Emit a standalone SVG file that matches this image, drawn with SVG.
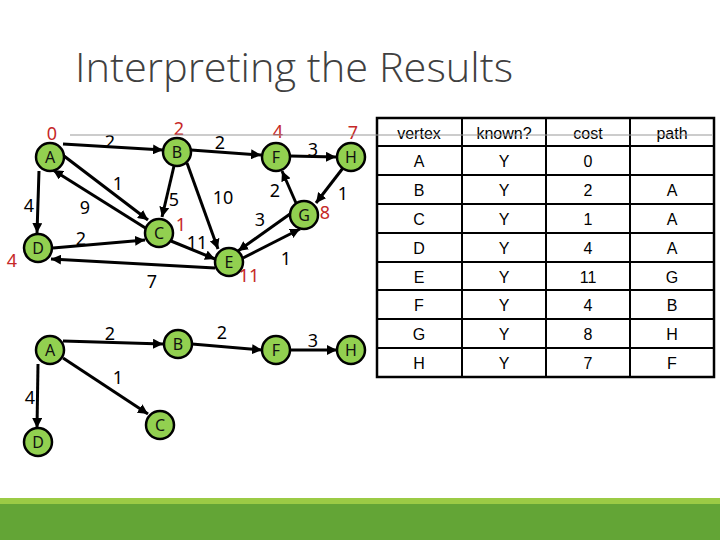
<svg xmlns="http://www.w3.org/2000/svg" width="720" height="540" viewBox="0 0 720 540">
<style>
.title{font-family:"Open Sans","Noto Sans",sans-serif;font-weight:300;font-size:41px;fill:#404040}
.node circle{fill:#92D050;stroke:#000;stroke-width:2.5}
.node text{font-family:"Noto Sans","DejaVu Sans",sans-serif;font-size:16px;fill:#111;text-anchor:middle;dominant-baseline:central}
.edges path{stroke:#000;stroke-width:3;fill:none;marker-end:url(#ah)}
.w{font-family:"Noto Sans","DejaVu Sans",sans-serif;font-size:18px;fill:#000;text-anchor:middle;dominant-baseline:central}
.r{font-family:"Noto Sans","DejaVu Sans",sans-serif;font-size:18px;fill:#C62828;text-anchor:middle;dominant-baseline:central}
.tb line{stroke:#000;stroke-width:2}
.tt{font-family:"Liberation Sans",Arial,sans-serif;font-size:16px;fill:#000;text-anchor:middle;dominant-baseline:central}
</style>
<defs>
<marker id="ah" markerUnits="userSpaceOnUse" markerWidth="11" markerHeight="10" refX="10" refY="5" orient="auto">
<path d="M0,0 L10,5 L0,10 Z" fill="#000"/>
</marker>
</defs>
<rect width="720" height="540" fill="#fff"/>
<text class="title" x="75" y="82" textLength="438" lengthAdjust="spacingAndGlyphs">Interpreting the Results</text>

<g id="connectors" class="edges">
<path d="M63,144 L163,150"/>
<path d="M64,156 L148,220"/>
<path d="M147,229 L53,170"/>
<path d="M39,171 L37,233"/>
<path d="M174,166 L162,217"/>
<path d="M53,248 L145,240"/>
<path d="M215,268 L51,259"/>
<path d="M171,241 L215,259"/>
<path d="M191,150 L261,155"/>
<path d="M187,163 L218,249"/>
<path d="M290,156 L336,157"/>
<path d="M343,168 L316,203"/>
<path d="M296,203 L282,171"/>
<path d="M290,214 L238,251"/>
<path d="M243,258 L300,229"/>
<path d="M63,341 L163,344"/>
<path d="M63,358 L148,414"/>
<path d="M38,364 L37,428"/>
<path d="M192,344 L262,350"/>
<path d="M290,350 L337,350"/>
</g>

<g id="edge-labels">
<text class="w" x="110" y="141">2</text>
<text class="w" x="118" y="183">1</text>
<text class="w" x="85" y="207">9</text>
<text class="w" x="29" y="205">4</text>
<text class="w" x="174" y="199">5</text>
<text class="w" x="81" y="238">2</text>
<text class="w" x="197" y="242">11</text>
<text class="w" x="152" y="281">7</text>
<text class="w" x="220" y="142">2</text>
<text class="w" x="223" y="197">10</text>
<text class="w" x="313" y="149">3</text>
<text class="w" x="275" y="190">2</text>
<text class="w" x="343" y="193">1</text>
<text class="w" x="260" y="219">3</text>
<text class="w" x="286" y="258">1</text>
<text class="w" x="110" y="333">2</text>
<text class="w" x="118" y="377">1</text>
<text class="w" x="30" y="397">4</text>
<text class="w" x="222" y="332">2</text>
<text class="w" x="313" y="340">3</text>
</g>

<g id="costs">
<text class="r" x="52" y="133">0</text>
<text class="r" x="179" y="128">2</text>
<text class="r" x="181" y="224">1</text>
<text class="r" x="12" y="260">4</text>
<text class="r" x="278" y="131">4</text>
<text class="r" x="353" y="132">7</text>
<text class="r" x="325" y="212">8</text>
<text class="r" x="249" y="275">11</text>
</g>

<g id="node-A" class="node"><circle cx="50" cy="157" r="14"/><text x="50" y="157">A</text></g>
<g id="node-B" class="node"><circle cx="177" cy="152" r="14"/><text x="177" y="152">B</text></g>
<g id="node-C" class="node"><circle cx="159" cy="233" r="14"/><text x="159" y="233">C</text></g>
<g id="node-D" class="node"><circle cx="38" cy="248" r="14"/><text x="38" y="248">D</text></g>
<g id="node-E" class="node"><circle cx="229" cy="262" r="14"/><text x="229" y="262">E</text></g>
<g id="node-F" class="node"><circle cx="276" cy="157" r="14"/><text x="276" y="157">F</text></g>
<g id="node-G" class="node"><circle cx="304" cy="215" r="14"/><text x="304" y="215">G</text></g>
<g id="node-H" class="node"><circle cx="351" cy="157" r="14"/><text x="351" y="157">H</text></g>

<g id="node-A2" class="node"><circle cx="50" cy="350" r="14"/><text x="50" y="350">A</text></g>
<g id="node-B2" class="node"><circle cx="178" cy="344" r="14"/><text x="178" y="344">B</text></g>
<g id="node-C2" class="node"><circle cx="160" cy="425" r="14"/><text x="160" y="425">C</text></g>
<g id="node-D2" class="node"><circle cx="38" cy="442" r="14"/><text x="38" y="442">D</text></g>
<g id="node-F2" class="node"><circle cx="276" cy="350" r="14"/><text x="276" y="350">F</text></g>
<g id="node-H2" class="node"><circle cx="351" cy="350" r="14"/><text x="351" y="350">H</text></g>

<g id="table" class="tb">
<rect x="377" y="118" width="337" height="259" fill="#fff" stroke="#000" stroke-width="2.5"/>
<line x1="462" y1="118" x2="462" y2="377"/>
<line x1="546" y1="118" x2="546" y2="377"/>
<line x1="630" y1="118" x2="630" y2="377"/>
<line x1="377" y1="146" x2="714" y2="146"/>
<line x1="377" y1="175" x2="714" y2="175"/>
<line x1="377" y1="204" x2="714" y2="204"/>
<line x1="377" y1="233" x2="714" y2="233"/>
<line x1="377" y1="262" x2="714" y2="262"/>
<line x1="377" y1="290" x2="714" y2="290"/>
<line x1="377" y1="319" x2="714" y2="319"/>
<line x1="377" y1="348" x2="714" y2="348"/>
<g class="tt">
<text class="tt" x="419" y="133">vertex</text><text class="tt" x="504" y="133">known?</text><text class="tt" x="588" y="133">cost</text><text class="tt" x="672" y="133">path</text>
<text class="tt" x="419" y="161">A</text><text class="tt" x="504" y="161">Y</text><text class="tt" x="588" y="161">0</text>
<text class="tt" x="419" y="190">B</text><text class="tt" x="504" y="190">Y</text><text class="tt" x="588" y="190">2</text><text class="tt" x="672" y="190">A</text>
<text class="tt" x="419" y="219">C</text><text class="tt" x="504" y="219">Y</text><text class="tt" x="588" y="219">1</text><text class="tt" x="672" y="219">A</text>
<text class="tt" x="419" y="248">D</text><text class="tt" x="504" y="248">Y</text><text class="tt" x="588" y="248">4</text><text class="tt" x="672" y="248">A</text>
<text class="tt" x="419" y="277">E</text><text class="tt" x="504" y="277">Y</text><text class="tt" x="588" y="277">11</text><text class="tt" x="672" y="277">G</text>
<text class="tt" x="419" y="305">F</text><text class="tt" x="504" y="305">Y</text><text class="tt" x="588" y="305">4</text><text class="tt" x="672" y="305">B</text>
<text class="tt" x="419" y="334">G</text><text class="tt" x="504" y="334">Y</text><text class="tt" x="588" y="334">8</text><text class="tt" x="672" y="334">H</text>
<text class="tt" x="419" y="363">H</text><text class="tt" x="504" y="363">Y</text><text class="tt" x="588" y="363">7</text><text class="tt" x="672" y="363">F</text>
</g>
</g>

<line x1="70" y1="135" x2="712" y2="135" stroke="#999" stroke-width="1"/>

<rect x="0" y="498" width="720" height="6" fill="#9BCB45"/>
<rect x="0" y="504" width="720" height="36" fill="#63A536"/>
</svg>
